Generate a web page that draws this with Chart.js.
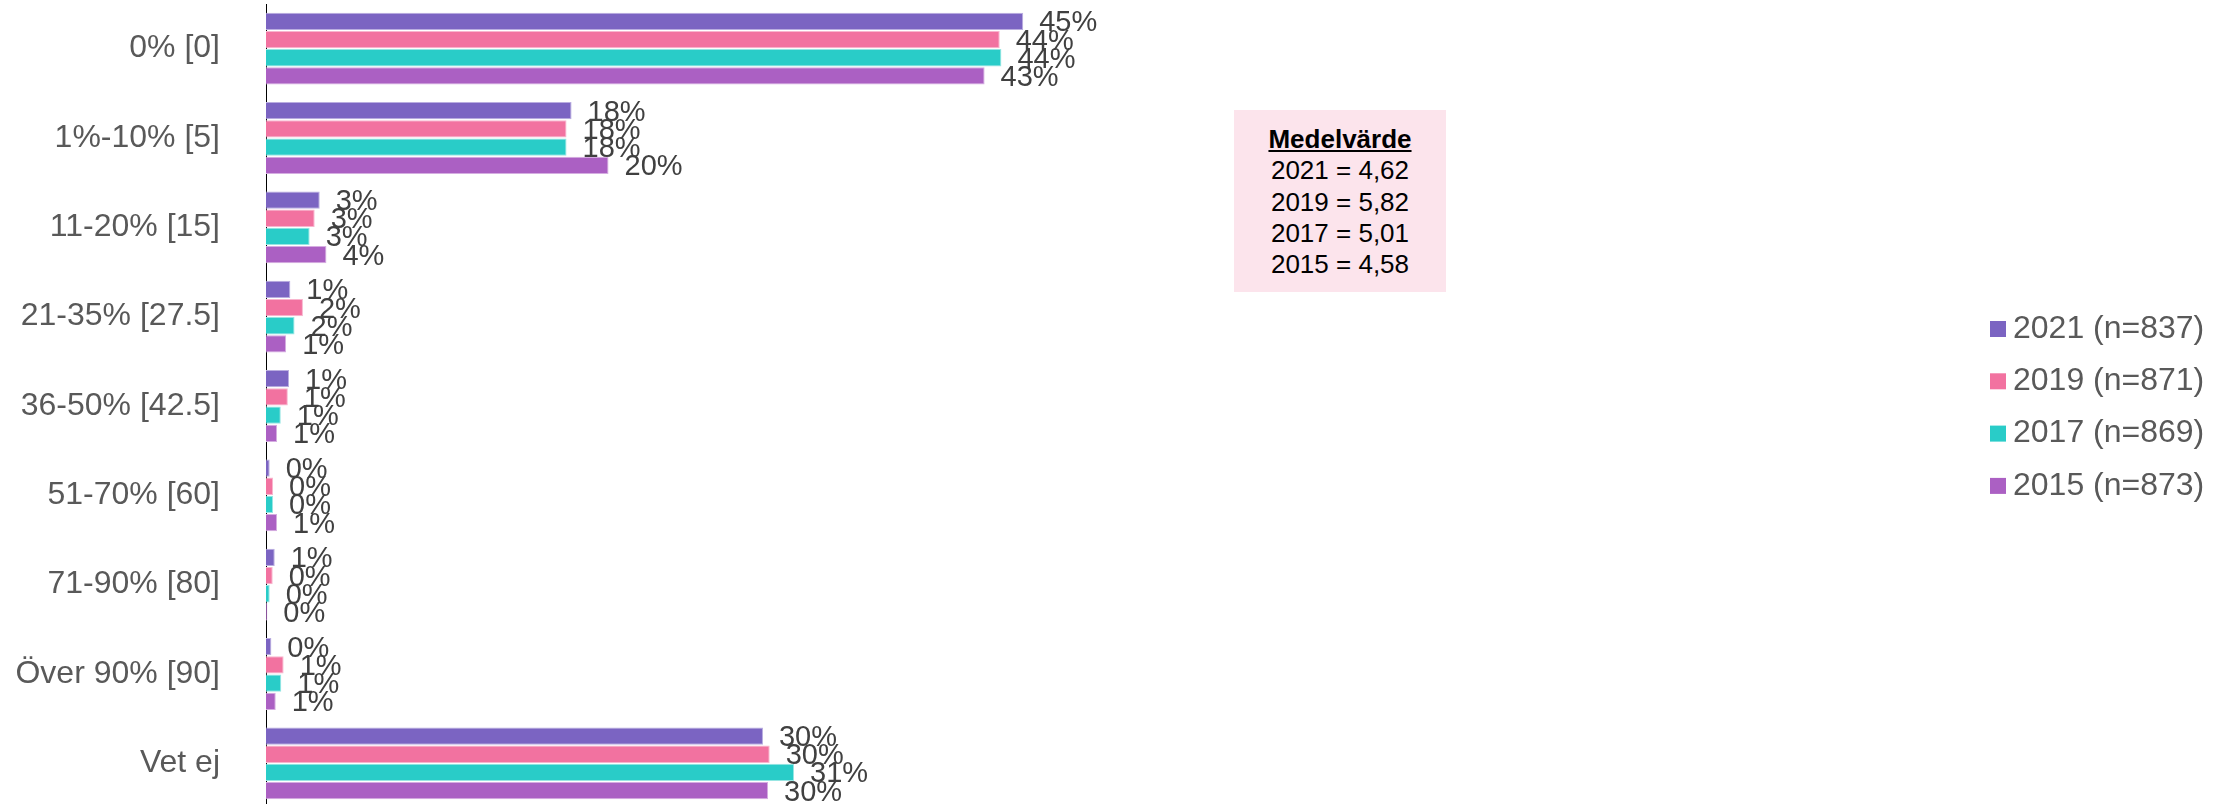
<!DOCTYPE html>
<html>
<head>
<meta charset="utf-8">
<script src="https://cdn.jsdelivr.net/npm/chart.js@4/dist/chart.umd.min.js"></script>
<style>
html, body { margin: 0; padding: 0; overflow: hidden; background: #fff; }
#wrap { position: relative; width: 2234px; height: 808px; }
#box { position: absolute; left: 1234px; top: 110px; width: 212px; height: 182px; background: #FCE4EC;
  font-family: "Liberation Sans", Arial, sans-serif; font-size: 26px; line-height: 31.3px; color: #000;
  text-align: center; box-sizing: border-box; padding-top: 14px; }
#box .h { font-weight: bold; text-decoration: underline; }
</style>
</head>
<body>
<div id="wrap">
<canvas id="c"></canvas>
<div id="box"><div class="h">Medelvärde</div><div>2021 = 4,62</div><div>2019 = 5,82</div><div>2017 = 5,01</div><div>2015 = 4,58</div></div>
</div>
<script>
const categories = ['0% [0]', '1%-10% [5]', '11-20% [15]', '21-35% [27.5]', '36-50% [42.5]', '51-70% [60]', '71-90% [80]', 'Över 90% [90]', 'Vet ej'];
const v2021 = [45.1, 18.2, 3.2, 1.45, 1.37, 0.22, 0.52, 0.32, 29.6];
const v2019 = [43.7, 17.9, 2.9, 2.2, 1.3, 0.42, 0.4, 1.05, 30.0];
const v2017 = [43.8, 17.9, 2.6, 1.7, 0.88, 0.42, 0.22, 0.91, 31.45];
const v2015 = [42.8, 20.4, 3.6, 1.2, 0.66, 0.66, 0.08, 0.58, 29.9];
const seriesLabels = ['2021 (n=837)', '2019 (n=871)', '2017 (n=869)', '2015 (n=873)'];
const colors = ['#7B64C2', '#F272A0', '#29CCC8', '#AB60C3'];
const edgeColors = ['#B9ADE0', '#F8B5CE', '#98E6E3', '#D5ADE1'];

const FONT = '"Liberation Sans", Arial, sans-serif';

const valueLabels = {
  id: 'valueLabels',
  afterDatasetsDraw(chart) {
    const ctx = chart.ctx;
    ctx.save();
    ctx.font = '29px ' + FONT;
    ctx.fillStyle = '#404040';
    ctx.textAlign = 'left';
    ctx.textBaseline = 'middle';
    chart.data.datasets.forEach((ds, i) => {
      const meta = chart.getDatasetMeta(i);
      meta.data.forEach((bar, j) => {
        ctx.fillText(Math.round(ds.data[j]) + '%', bar.x + 16, bar.y + 2);
      });
    });
    ctx.restore();
  }
};

const customLegend = {
  id: 'customLegend',
  afterDraw(chart) {
    const ctx = chart.ctx;
    ctx.save();
    ctx.font = '32px ' + FONT;
    ctx.textBaseline = 'middle';
    ctx.textAlign = 'left';
    chart.data.datasets.forEach((ds, i) => {
      const cy = 329 + i * 52.3;
      ctx.fillStyle = ds.backgroundColor;
      ctx.fillRect(1990, cy - 8, 16, 16);
      ctx.fillStyle = '#595959';
      ctx.fillText(ds.label, 2013, cy);
    });
    ctx.restore();
  }
};

const seriesData = [v2021, v2019, v2017, v2015];
new Chart(document.getElementById('c'), {
  type: 'bar',
  data: {
    labels: categories,
    datasets: seriesData.map((d, i) => ({
      label: seriesLabels[i],
      data: d,
      backgroundColor: colors[i],
      borderColor: edgeColors[i],
      borderWidth: 1,
      barPercentage: 0.95,
      categoryPercentage: 0.815
    }))
  },
  options: {
    indexAxis: 'y',
    responsive: true,
    maintainAspectRatio: false,
    animation: false,
    layout: { padding: { top: 4, right: 289, left: 0, bottom: 0 } },
    plugins: { legend: { display: false }, tooltip: { enabled: false } },
    scales: {
      x: { display: false, min: 0, max: 100 },
      y: {
        grid: { display: false },
        border: { display: true, color: '#000', width: 1 },
        ticks: { color: '#595959', font: { size: 32, family: FONT }, padding: 38 },
        afterFit(scale) { scale.width = 266; scale.paddingTop = 0; scale.paddingBottom = 0; }
      }
    }
  },
  plugins: [valueLabels, customLegend]
});
</script>
</body>
</html>
